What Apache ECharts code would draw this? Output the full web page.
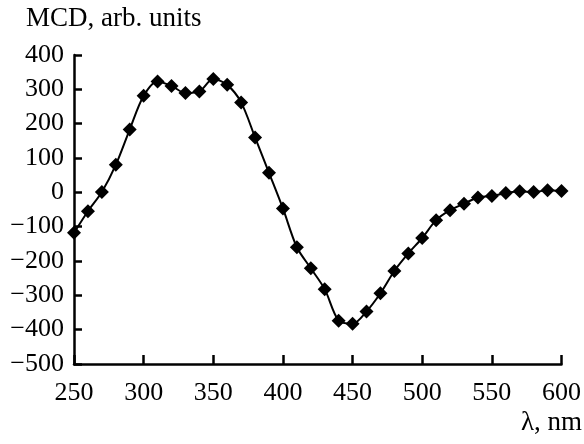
<!DOCTYPE html>
<html>
<head>
<meta charset="utf-8">
<script src="https://cdn.jsdelivr.net/npm/echarts@6/dist/echarts.min.js"></script>
<style>html,body{margin:0;padding:0;background:#fff}#c{width:584px;height:444px}</style>
</head>
<body>
<div id="c"></div>
<script>
var wavelengths = [250,260,270,280,290,300,310,320,330,340,350,360,370,380,390,400,410,420,430,440,450,460,470,480,490,500,510,520,530,540,550,560,570,580,590,600];
var mcd = [-118,-55,1,80,183,281,323,310,289,294,330,313,262,160,57,-47,-160,-221,-282,-374,-383,-347,-294,-229,-178,-133,-81,-52,-33,-15,-11,-2,3,1,6,4];
var yTitle = 'MCD, arb. units';
var xTitle = 'λ, nm';

var FONT = '"Liberation Serif", "Times New Roman", serif';
var chart = echarts.init(document.getElementById('c'));
var pts = wavelengths.map(function(w,i){return [w, mcd[i]];});
chart.setOption({
  animation: false,
  backgroundColor: '#fff',
  grid: {left: 74, right: 20, top: 55, bottom: 80},
  xAxis: {
    type: 'value', min: 250, max: 600, interval: 50,
    axisLine: {onZero: false, lineStyle: {color: '#000', width: 2.5}},
    axisTick: {inside: true, length: 9, lineStyle: {color: '#000', width: 2.5}},
    axisLabel: {color: '#000', fontFamily: FONT, fontSize: 26, margin: 16},
    splitLine: {show: false}
  },
  yAxis: {
    type: 'value', min: -500, max: 400, interval: 100,
    axisLine: {show: true, onZero: false, lineStyle: {color: '#000', width: 2.5}},
    axisTick: {show: true, inside: true, length: 8, lineStyle: {color: '#000', width: 2.5}},
    axisLabel: {color: '#000', fontFamily: FONT, fontSize: 26, margin: 10,
      formatter: function(v){return v < 0 ? '\u2212' + Math.abs(v) : String(v);}},
    splitLine: {show: false}
  },
  graphic: [
    {type: 'text', left: 26, top: 5, style: {text: yTitle, font: '27px ' + FONT, fill: '#000'}},
    {type: 'text', right: 2, top: 409, style: {text: xTitle, font: '27px ' + FONT, fill: '#000'}}
  ],
  series: [{
    type: 'line', data: pts, smooth: 0.3,
    symbol: 'diamond', symbolSize: 14,
    lineStyle: {color: '#000', width: 2},
    itemStyle: {color: '#000'}
  }]
});
</script>
</body>
</html>
